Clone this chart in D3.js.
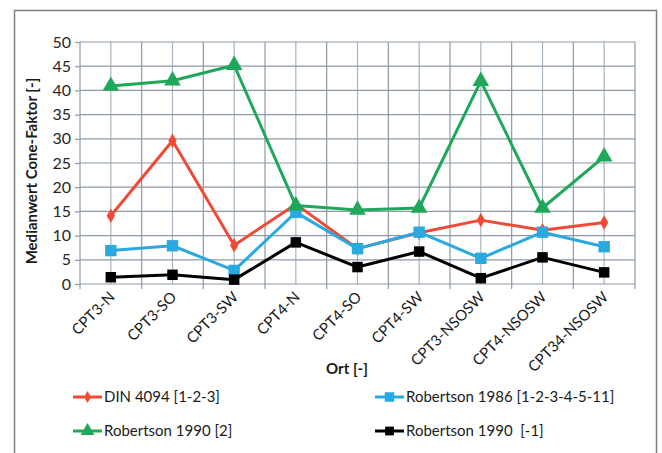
<!DOCTYPE html>
<html>
<head>
<meta charset="utf-8">
<script src="https://cdn.jsdelivr.net/npm/d3@7"></script>
<style>
  body { margin: 0; background: #fff; }
  svg { display: block; font-family: Lato, "Open Sans", sans-serif; }
</style>
</head>
<body>
<div id="chart"></div>
<script>
// Data
const categories = ["CPT3-N", "CPT3-SO", "CPT3-SW", "CPT4-N", "CPT4-SO", "CPT4-SW", "CPT3-NSOSW", "CPT4-NSOSW", "CPT34-NSOSW"];
const din4094 = [14.1, 29.6, 8.0, 16.5, 7.3, 10.6, 13.2, 11.1, 12.7];
const robertson1986 = [6.9, 7.9, 2.8, 14.8, 7.3, 10.7, 5.3, 10.7, 7.7];
const robertson1990 = [40.9, 42.0, 45.2, 16.2, 15.3, 15.7, 41.9, 15.7, 26.3];
const robertson1990m1 = [1.4, 1.9, 0.9, 8.6, 3.5, 6.7, 1.2, 5.5, 2.4];
const yTicks = [0, 5, 10, 15, 20, 25, 30, 35, 40, 45, 50];

const series = [
  {name: "DIN 4094 [1-2-3]", values: din4094, color: "#f04a36", symbol: d3.symbolDiamond, size: 60},
  {name: "Robertson 1986 [1-2-3-4-5-11]", values: robertson1986, color: "#2aa9e0", symbol: d3.symbolSquare, size: 130},
  {name: "Robertson 1990 [2]", values: robertson1990, color: "#1fa85a", symbol: d3.symbolTriangle, size: 120},
  {name: "Robertson 1990  [-1]", values: robertson1990m1, color: "#000000", symbol: d3.symbolSquare, size: 110}
];

const width = 662;
const height = 453;
const marginTop = 42;
const marginBottom = 169; // x axis at 284
const marginLeft = 80;
const marginRight = 27;

const svg = d3.select("#chart")
  .append("svg")
    .attr("width", width)
    .attr("height", height)
    .attr("viewBox", [0, 0, width, height]);

// chart border
svg.append("rect")
  .attr("x", 14.5).attr("y", 10.5)
  .attr("width", 642).attr("height", 460)
  .attr("fill", "none")
  .attr("stroke", "#7f7f7f")
  .attr("stroke-width", 1.5);

const x = d3.scaleBand()
  .domain(categories)
  .range([marginLeft, width - marginRight]);

const y = d3.scaleLinear()
  .domain([0, 50])
  .range([height - marginBottom, marginTop]);

const cx = d => x(d) + x.bandwidth() / 2;

// grid: vertical lines at category boundaries and centres
const grid = svg.append("g");
grid.selectAll(".mid")
  .data(categories)
  .join("line")
    .attr("x1", d => cx(d)).attr("x2", d => cx(d))
    .attr("y1", y(0)).attr("y2", y(50))
    .attr("stroke", "#a9b4c1").attr("stroke-width", 1.2);
grid.selectAll(".edge")
  .data(categories.concat(["end"]))
  .join("line")
    .attr("x1", (d, i) => marginLeft + i * x.bandwidth())
    .attr("x2", (d, i) => marginLeft + i * x.bandwidth())
    .attr("y1", y(0)).attr("y2", y(50))
    .attr("stroke", "#8e99a6").attr("stroke-width", 1.2);
grid.selectAll(".h")
  .data(yTicks)
  .join("line")
    .attr("x1", marginLeft).attr("x2", width - marginRight)
    .attr("y1", d => y(d)).attr("y2", d => y(d))
    .attr("stroke", "#8e99a6").attr("stroke-width", 1.2);

// y axis
svg.append("g")
  .attr("transform", `translate(${marginLeft},0)`)
  .call(d3.axisLeft(y).tickValues(yTicks).tickSize(5).tickPadding(4))
  .call(g => g.select(".domain").remove())
  .call(g => g.selectAll(".tick line").attr("stroke", "#8e99a6").attr("stroke-width", 1.2))
  .call(g => g.selectAll(".tick text").attr("font-size", 16).attr("fill", "#262626").attr("font-family", "Lato"));

svg.append("text")
  .attr("transform", `translate(37,171) rotate(-90)`)
  .attr("text-anchor", "middle")
  .attr("font-size", 15)
  .attr("font-weight", "bold")
  .attr("fill", "#1a1a1a")
  .text("Medianwert Cone-Faktor [-]");

// x axis ticks at category boundaries
svg.append("g")
  .selectAll("line")
  .data(categories.concat(["end"]))
  .join("line")
    .attr("x1", (d, i) => marginLeft + i * x.bandwidth())
    .attr("x2", (d, i) => marginLeft + i * x.bandwidth())
    .attr("y1", y(0)).attr("y2", y(0) + 5)
    .attr("stroke", "#8e99a6").attr("stroke-width", 1.2);

svg.append("g")
  .selectAll("text")
  .data(categories)
  .join("text")
    .attr("transform", d => `translate(${cx(d) + 5},${y(0) + 14}) rotate(-45)`)
    .attr("text-anchor", "end")
    .attr("font-size", 15)
    .attr("fill", "#1a1a1a")
    .text(d => d);

svg.append("text")
  .attr("x", 347).attr("y", 374)
  .attr("text-anchor", "middle")
  .attr("font-size", 15)
  .attr("font-weight", "bold")
  .attr("fill", "#1a1a1a")
  .text("Ort [-]");

// series lines and markers
const line = d3.line()
  .x((d, i) => cx(categories[i]))
  .y(d => y(d));

for (const s of series) {
  svg.append("path")
    .attr("d", line(s.values))
    .attr("fill", "none")
    .attr("stroke", s.color)
    .attr("stroke-width", 3)
    .attr("stroke-linejoin", "round");
  svg.append("g")
    .selectAll("path")
    .data(s.values)
    .join("path")
      .attr("transform", (d, i) => `translate(${cx(categories[i])},${y(d)})`)
      .attr("d", d3.symbol(s.symbol, s.size))
      .attr("fill", s.color);
}

// legend
const legendPos = [[73, 397], [375, 397], [73, 431], [375, 431]];
const legend = svg.append("g")
  .selectAll("g")
  .data(series)
  .join("g")
    .attr("transform", (d, i) => `translate(${legendPos[i][0]},${legendPos[i][1]})`);
legend.append("line")
  .attr("x1", 0).attr("x2", 29)
  .attr("stroke", d => d.color).attr("stroke-width", 3);
legend.append("path")
  .attr("transform", "translate(14.5,0)")
  .attr("d", d => d3.symbol(d.symbol, d.size * 0.7)())
  .attr("fill", d => d.color);
legend.append("text")
  .attr("x", 31).attr("dy", "0.35em")
  .attr("font-size", 15)
  .attr("fill", "#1a1a1a")
  .style("white-space", "pre")
  .text(d => d.name);
</script>
</body>
</html>
